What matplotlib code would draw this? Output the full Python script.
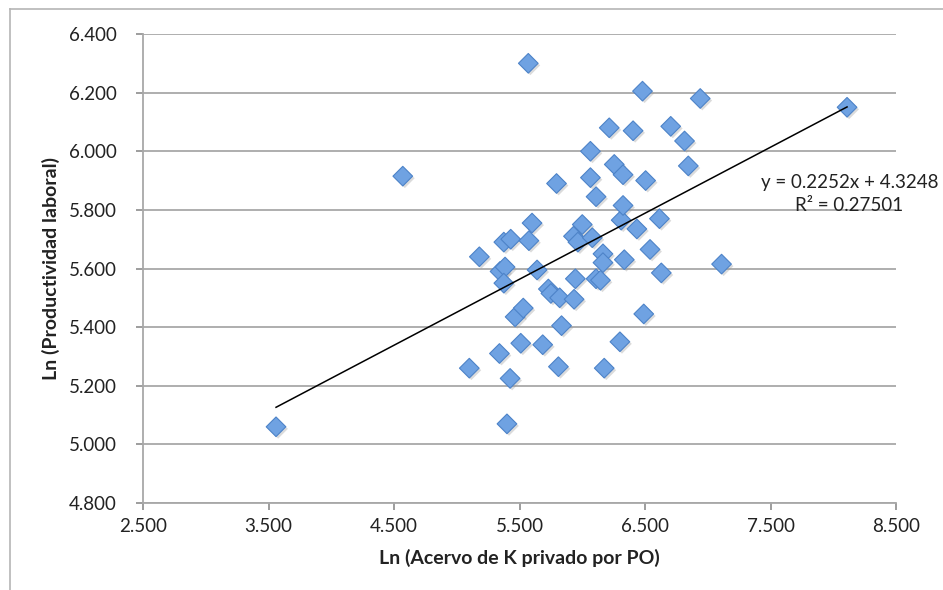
import matplotlib
matplotlib.use('Agg')
import matplotlib.pyplot as plt
import matplotlib.patheffects as pe
from matplotlib.lines import Line2D
import numpy as np

plt.rcParams['font.family'] = ['Lato', 'DejaVu Sans']

# data
ln_k = [3.56, 4.57, 5.10, 5.18, 5.34, 5.345, 5.385, 5.375, 5.375, 5.43,
        5.40, 5.425, 5.465, 5.51, 5.53, 5.57, 5.575, 5.60, 5.64, 5.685,
        5.73, 5.75, 5.795, 5.81, 5.82, 5.835, 5.93, 5.935, 5.945, 5.965,
        6.00, 6.065, 6.065, 6.08, 6.11, 6.11, 6.145, 6.165, 6.165, 6.175,
        6.215, 6.255, 6.30, 6.31, 6.325, 6.325, 6.335, 6.405, 6.435, 6.48,
        6.49, 6.505, 6.54, 6.615, 6.63, 6.705, 6.815, 6.845, 6.94, 7.11,
        8.11]
ln_prod = [5.06, 5.915, 5.26, 5.64, 5.31, 5.59, 5.605, 5.55, 5.69, 5.70,
           5.07, 5.225, 5.435, 5.345, 5.465, 6.30, 5.695, 5.755, 5.595, 5.34,
           5.53, 5.515, 5.89, 5.265, 5.50, 5.405, 5.71, 5.495, 5.565, 5.69,
           5.75, 6.00, 5.91, 5.705, 5.845, 5.565, 5.56, 5.65, 5.62, 5.26,
           6.08, 5.955, 5.35, 5.765, 5.92, 5.815, 5.63, 6.07, 5.735, 6.205,
           5.445, 5.90, 5.665, 5.77, 5.585, 6.085, 6.035, 5.95, 6.18, 5.615,
           6.15]

# trendline as reported on the chart
slope = 0.2252
intercept = 4.3248
r2 = 0.27501

x_ticks = [2.5, 3.5, 4.5, 5.5, 6.5, 7.5, 8.5]
y_ticks = [4.8, 5.0, 5.2, 5.4, 5.6, 5.8, 6.0, 6.2, 6.4]

fig = plt.figure(figsize=(9.43, 5.9), dpi=100)
ax = fig.add_axes([143/943, 1-503/590, (896-143)/943, (503-34)/590])

# chart area frame (left / top edges visible)
fig.add_artist(Line2D([10/943, 10/943], [0, 1-9/590], transform=fig.transFigure,
                      color='#b5b5b5', lw=1.2))
fig.add_artist(Line2D([10/943, 1], [1-9/590, 1-9/590], transform=fig.transFigure,
                      color='#b5b5b5', lw=1.2))

ax.scatter(ln_k, ln_prod, marker='D', s=100, facecolor='#6fa2e2',
           edgecolor='#4d83c8', linewidth=0.8, zorder=3,
           path_effects=[pe.SimplePatchShadow(offset=(1.5, -1.5), shadow_rgbFace='#9a9a9a', alpha=0.35),
                         pe.Normal()])

xs = np.array([min(ln_k), max(ln_k)])
ax.plot(xs, slope*xs + intercept, color='black', lw=1.1, zorder=4)

ax.text(8.13, 5.895, 'y = %.4fx + %.4f' % (slope, intercept), ha='center', va='center',
        fontsize=13.5, color='#222222', zorder=5)
ax.text(8.13, 5.816, 'R² = %.5f' % r2, ha='center', va='center',
        fontsize=13.5, color='#222222', zorder=5)

ax.set_xlim(2.5, 8.5)
ax.set_ylim(4.8, 6.4)
ax.set_xticks(x_ticks)
ax.set_yticks(y_ticks)
ax.set_xticklabels(['%.3f' % v for v in x_ticks])
ax.set_yticklabels(['%.3f' % v for v in y_ticks])
ax.tick_params(axis='both', labelsize=13.5, colors='#8c8c8c', labelcolor='#222222',
               length=5, width=1.2)
ax.tick_params(axis='y', pad=14)
ax.tick_params(axis='x', pad=6)

ax.grid(axis='y', color='#a8a8a8', lw=1.3)
ax.set_axisbelow(True)
for side in ['top', 'right']:
    ax.spines[side].set_visible(False)
for side in ['left', 'bottom']:
    ax.spines[side].set_color('#a8a8a8')
    ax.spines[side].set_linewidth(1.3)

ax.set_xlabel('Ln (Acervo de K privado por PO)', fontsize=14, fontweight='bold',
              color='#222222', labelpad=10)
ax.set_ylabel('Ln (Productividad laboral)', fontsize=14, fontweight='bold',
              color='#222222', labelpad=6)

fig.savefig('out.png', dpi=100)
